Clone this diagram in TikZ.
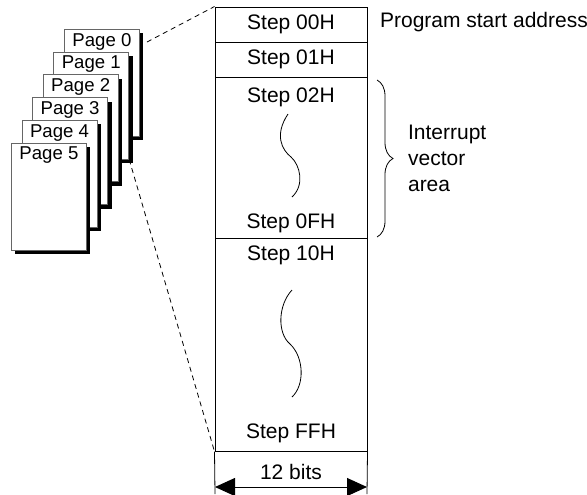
\documentclass[tikz,border=0pt]{standalone}
\usepackage{fontspec}
\setmainfont{Liberation Sans}
\usetikzlibrary{arrows.meta,shadows,decorations.pathreplacing}
\tikzset{
 page/.style={draw=gray!80!black, fill=white, line width=0.4pt, minimum width=37.5pt,
   minimum height=53.5pt, inner sep=0pt, anchor=north west,
   drop shadow={shadow xshift=2pt, shadow yshift=-2pt, fill=black, opacity=1}},
 pagelbl/.style={anchor=north, inner sep=0pt, yshift=-2pt, font=\fontsize{9.3}{11}\selectfont},
 row/.style={draw, line width=0.5pt, minimum width=76pt, inner sep=0pt},
 dimarrow/.style={{Triangle[length=10pt,width=9pt]}-{Triangle[length=10pt,width=9pt]}, line width=0.5pt},
}
\begin{document}
\begin{tikzpicture}[x=0.5pt, y=-0.5pt, font=\fontsize{10.5}{13}\selectfont]
 \useasboundingbox (0,0) rectangle (587,494);

 % stack of pages
 \foreach \k in {0,...,5}
  \node[page, label={[pagelbl]north:Page \k}] (p\k) at ({64-10.6*\k},{29+22.7*\k}) {};

 % memory of one page
 \node[row, minimum height=17.5pt] (r00) at (291,24.5) {Step 00H};
 \node[row, minimum height=17.5pt] (r01) at (291,59.5) {Step 01H};
 \node[row, minimum height=80.5pt] (blka) at (291,157.5) {};
 \node[row, minimum height=106.5pt] (blkb) at (291,344.5) {};

 \node (s02) at (291,97) {Step 02H};
 \node (s0f) at (291,223) {Step 0FH};
 \node (s10) at (291,255) {Step 10H};
 \node (sff) at (291,433) {Step FFH};

 \draw [line width=0.4pt] (288,114) .. controls (274,135) and (282,150) .. (291,157)
   .. controls (300,165) and (305,185) .. (292,197);
 \draw [line width=0.4pt] (292,290) .. controls (278,305) and (277,333) .. (290,344)
   .. controls (304,357) and (305,385) .. (292,397);

 % zoom lines
 \coordinate (d1) at (147,42);
 \draw [dashed, dash pattern=on 2.5pt off 2pt, line width=0.4pt] (d1) -- (r00.north west);
 \draw [dashed, dash pattern=on 2.5pt off 2pt, line width=0.4pt] (p1.south east) -- (blkb.south west);

 \node[anchor=west] (start) at (373,22) {Program start address};

 \coordinate (bt) at (377,80);
 \coordinate (bb) at (377,237);
 \draw [line width=0.4pt, decorate, decoration={brace, amplitude=8pt}] (bt) -- (bb);
 \node[anchor=west, align=left] (ivec) at (401,158) {Interrupt\\vector\\area};

 % width of a step
 \coordinate (el) at (215,494);
 \coordinate (er) at (367,494);
 \coordinate (al) at (215,487);
 \coordinate (ar) at (367,487);
 \draw [line width=0.4pt] (blkb.south west) -- (el);
 \draw [line width=0.4pt] (blkb.south east) -- (er);
 \draw [dimarrow] (al) -- (ar);
 \node (bits) at (291,472) {12 bits};
\end{tikzpicture}
\end{document}
